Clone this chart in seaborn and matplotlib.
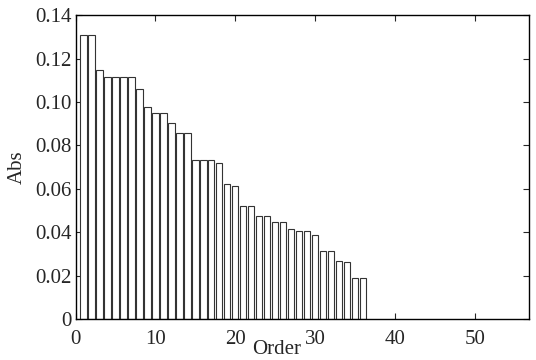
#!/usr/bin/env python3
"""Bar chart of Abs by Order (MATLAB-like styling)."""

import matplotlib

matplotlib.use("Agg")
import matplotlib.pyplot as plt
import seaborn as sns

order = list(range(1, 37))
abs_values = [
    0.131, 0.131, 0.1147, 0.1115, 0.1115, 0.1115, 0.1115, 0.1061, 0.0976, 0.0950,
    0.0950, 0.0904, 0.0858, 0.0858, 0.0732, 0.0732, 0.0732, 0.0719, 0.0622, 0.0611,
    0.0522, 0.0522, 0.0476, 0.0476, 0.0447, 0.0447, 0.0416, 0.0407, 0.0407, 0.0385,
    0.0313, 0.0313, 0.0267, 0.0262, 0.0191, 0.0191,
]
x_ticks = [0, 10, 20, 30, 40, 50]
y_ticks = [0, 0.02, 0.04, 0.06, 0.08, 0.10, 0.12, 0.14]
y_tick_labels = ["0", "0.02", "0.04", "0.06", "0.08", "0.10", "0.12", "0.14"]

sns.set_style("ticks")
plt.rcParams["font.family"] = ["Liberation Serif", "DejaVu Serif"]

fig = plt.figure(figsize=(5.36, 3.6), dpi=100)
ax = fig.add_axes([0.141, 0.114, 0.846, 0.844])

sns.barplot(
    x=order,
    y=abs_values,
    native_scale=True,
    width=0.8,
    color="white",
    edgecolor="#333333",
    linewidth=0.8,
    ax=ax,
)

ax.set_xlim(0, 56.8)
ax.set_ylim(0, 0.14)
ax.set_xticks(x_ticks)
ax.set_xticklabels([str(t) for t in x_ticks])
ax.set_yticks(y_ticks)
ax.set_yticklabels(y_tick_labels)
ax.tick_params(direction="in", top=True, right=True, labelsize=15, length=4, width=0.8)
ax.tick_params(axis="x", pad=8)
ax.tick_params(axis="y", pad=3)
for spine in ax.spines.values():
    spine.set_linewidth(1.0)
    spine.set_color("black")

# label sits low, right under the tick labels, like the original
ax.set_xlabel("Order", fontsize=15, va="top")
ax.xaxis.set_label_coords(0.444, -0.07)
ax.set_ylabel("Abs", fontsize=15, labelpad=6)

plt.savefig("out.png", dpi=100)
plt.close()
